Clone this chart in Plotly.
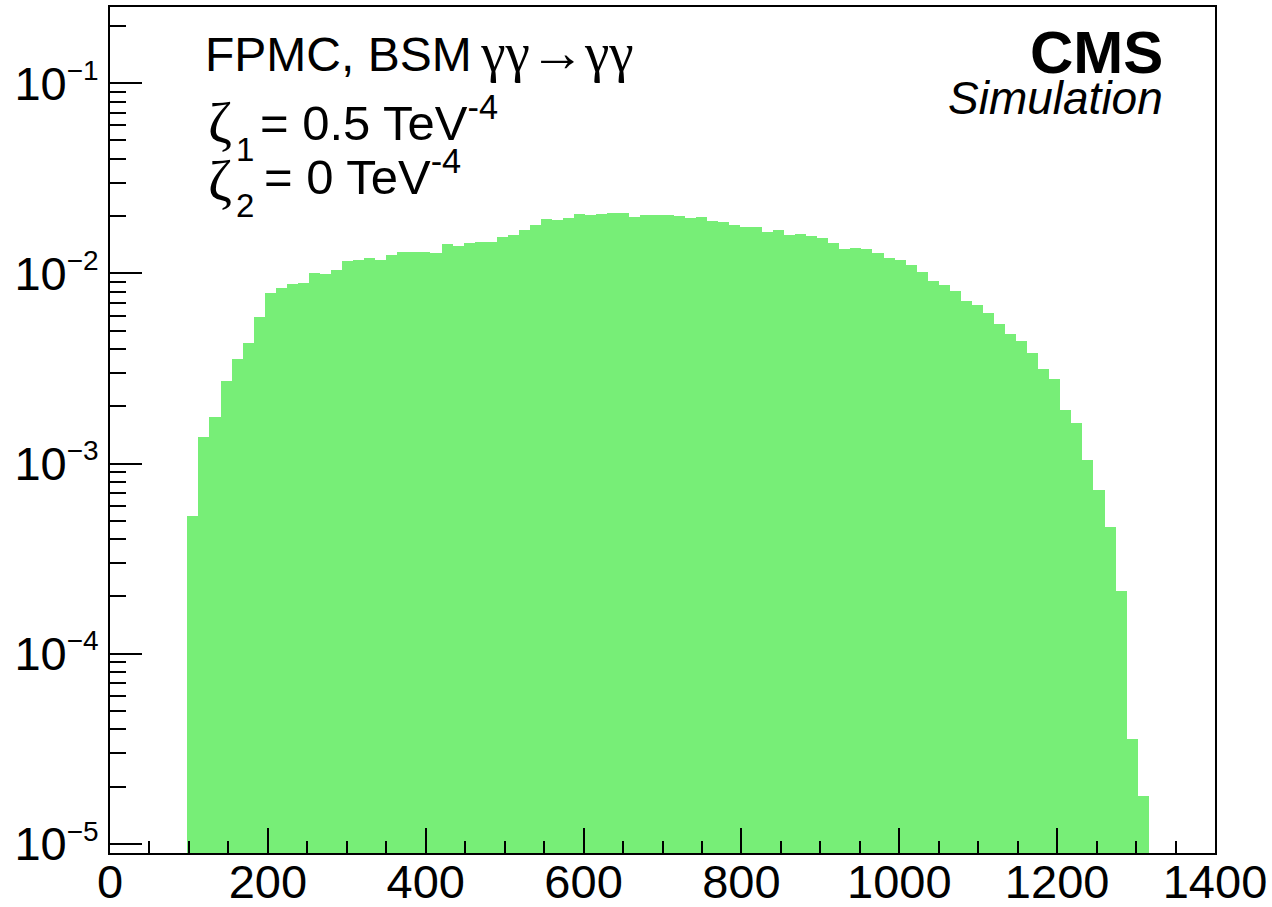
import numpy as np
import plotly.graph_objects as go

# ---------------- data ----------------
bin_width = 14.0            # GeV, 100 bins over 0..1400
first_bin_low = 98.0        # lower edge of first filled bin
events = [
    5.27e-4, 1.38e-3, 1.75e-3, 2.71e-3, 3.55e-3, 4.31e-3, 5.92e-3, 7.89e-3,
    8.41e-3, 8.83e-3, 8.94e-3, 1.00e-2, 9.95e-3, 1.04e-2, 1.16e-2, 1.17e-2,
    1.21e-2, 1.17e-2, 1.25e-2, 1.29e-2, 1.29e-2, 1.30e-2, 1.28e-2, 1.42e-2,
    1.40e-2, 1.45e-2, 1.47e-2, 1.47e-2, 1.56e-2, 1.585e-2, 1.70e-2, 1.80e-2,
    1.93e-2, 1.91e-2, 1.96e-2, 2.05e-2, 2.03e-2, 2.06e-2, 2.07e-2, 2.09e-2,
    1.99e-2, 2.02e-2, 2.02e-2, 2.03e-2, 2.01e-2, 1.96e-2, 1.97e-2, 1.885e-2,
    1.87e-2, 1.80e-2, 1.76e-2, 1.75e-2, 1.65e-2, 1.70e-2, 1.59e-2, 1.62e-2,
    1.58e-2, 1.54e-2, 1.44e-2, 1.35e-2, 1.36e-2, 1.34e-2, 1.275e-2, 1.20e-2,
    1.18e-2, 1.11e-2, 1.017e-2, 9.16e-3, 8.66e-3, 8.08e-3, 7.19e-3, 6.82e-3,
    6.19e-3, 5.40e-3, 4.82e-3, 4.41e-3, 3.83e-3, 3.13e-3, 2.78e-3, 1.92e-3,
    1.64e-3, 1.05e-3, 7.30e-4, 4.65e-4, 2.14e-4, 3.58e-5, 1.79e-5,
]
x_ticks = [0, 200, 400, 600, 800, 1000, 1200, 1400]
y_ticks = [1e-5, 1e-4, 1e-3, 1e-2, 1e-1]
y_tick_exponents = ["−5", "−4", "−3", "−2", "−1"]
x_range = [0, 1400]
y_range_log = [-5.048, -0.599]

# bin centres (category positions of the histogram)
centers = first_bin_low + bin_width * (np.arange(len(events)) + 0.5)

# ---------------- style ----------------
W, H = 1272, 907
L, R, T, B = 110, 1215, 7, 853
SANS = "Liberation Sans, Arial, Helvetica, sans-serif"
SERIF = "Liberation Serif, Times New Roman, serif"
GREEN = "rgb(119,238,119)"


def P(px, py):
    return (px - L) / (R - L), (B - py) / (B - T)


fig = go.Figure()
fig.add_trace(go.Bar(
    x=centers, y=events, width=bin_width,
    marker=dict(color=GREEN, line=dict(width=0)),
    showlegend=False, hoverinfo="x+y",
))

fig.update_layout(
    width=W, height=H, template="none",
    margin=dict(l=L, r=W - R, t=T, b=H - B, pad=0),
    paper_bgcolor="white", plot_bgcolor="white",
    bargap=0, font=dict(family=SANS, color="black", size=47),
)

fig.update_xaxes(
    range=x_range, tickvals=x_ticks, ticktext=[str(v) for v in x_ticks],
    ticks="inside", ticklen=25, tickwidth=2, tickcolor="black",
    showline=True, linecolor="black", linewidth=2, mirror=True,
    showgrid=False, zeroline=False, automargin=False,
    tickfont=dict(size=47, family=SANS), ticklabelstandoff=-13,
    minor=dict(ticks="inside", ticklen=12, tickwidth=2, tickcolor="black",
               dtick=50, tick0=0, showgrid=False),
)
fig.update_yaxes(
    type="log", range=y_range_log,
    tickmode="array", tickvals=y_ticks,
    ticktext=[f"10<sup><span style=\"font-size:28px\">{e}</span></sup>"
              for e in y_tick_exponents],
    ticks="inside", ticklen=32, tickwidth=2, tickcolor="black",
    showline=True, linecolor="black", linewidth=2, mirror=True,
    showgrid=False, zeroline=False, automargin=False,
    tickfont=dict(size=47, family=SANS), ticklabelstandoff=0,
    minor=dict(ticks="inside", ticklen=16, tickwidth=2, tickcolor="black",
               dtick="D1", showgrid=False),
)


def ann(text, px, py, size, xanchor="left", family=SANS, yanchor="middle"):
    x, y = P(px, py)
    fig.add_annotation(
        text=text, x=x, y=y, xref="paper", yref="paper",
        xanchor=xanchor, yanchor=yanchor, showarrow=False,
        font=dict(size=size, family=family, color="black"),
    )


ann(f"FPMC, BSM\u2009<span style=\"font-family:{SERIF}; font-size:55px\">γγ→γγ</span>",
    203, 52, 48)
# zeta lines
ann("ζ", 206, 123, 58, family=SERIF)
ann("1", 234, 150, 33)
ann("= 0.5 TeV<sup>-4</sup>", 258, 119, 49)
ann("ζ", 206, 180, 58, family=SERIF)
ann("2", 234, 206, 33)
ann("= 0 TeV<sup>-4</sup>", 262, 173, 49)
# CMS label
ann("<b>CMS</b>", 1165, 52, 60, xanchor="right")
ann("<i>Simulation</i>", 1165, 98, 46, xanchor="right")

fig.write_html(
    "out.html",
    config={"displayModeBar": False},
    post_script="document.body.style.margin='0';document.body.style.padding='0';",
)
